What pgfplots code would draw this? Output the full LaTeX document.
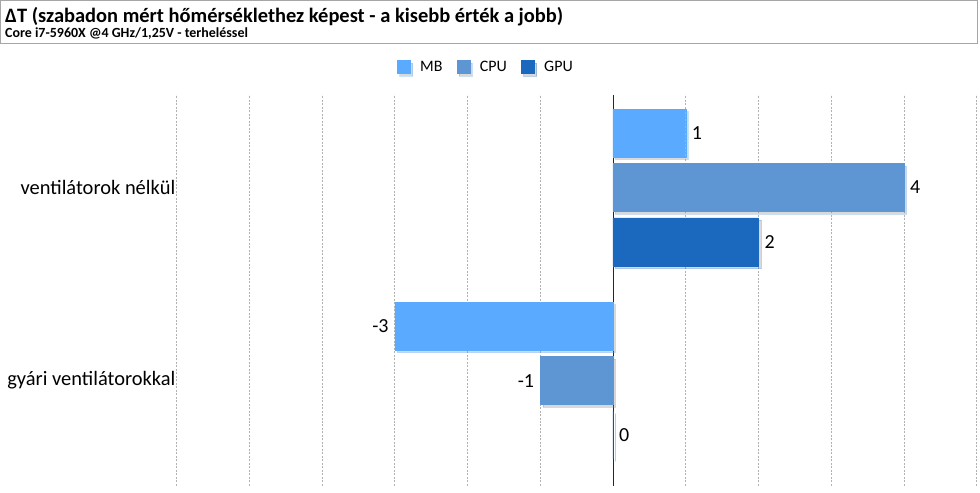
\documentclass[border=0pt]{standalone}
\usepackage{fontspec}
\setmainfont{Carlito}
\usepackage{pgfplots}
\pgfplotsset{compat=1.18}
\usetikzlibrary{shadows}
\definecolor{cMB}{RGB}{90,171,255}
\definecolor{cCPU}{RGB}{93,150,210}
\definecolor{cGPU}{RGB}{26,105,190}
\begin{document}
\begin{tikzpicture}
\path (0,0) rectangle (980pt,-490pt);
\draw[gray!70, line width=1pt] (0.5pt,-0.5pt) rectangle (979.5pt,-44pt);
\node[anchor=base west, inner sep=0pt, font=\bfseries\fontsize{20.5}{22}\selectfont] at (5pt,-23pt) {ΔT (szabadon mért hőmérséklethez képest - a kisebb érték a jobb)};
\node[anchor=base west, inner sep=0pt, font=\bfseries\fontsize{14}{16}\selectfont] at (5pt,-38pt) {Core i7-5960X @4 GHz/1,25V - terheléssel};
\begin{axis}[
  at={(177pt,-487pt)}, anchor=south west,
  scale only axis, width=802pt, height=392pt,
  xmin=-6, xmax=5, ymin=-0.545, ymax=1.48,
  xbar, bar width=0.248,
  /pgf/number format/assume math mode=true,
  xtick={-6,...,5}, xticklabels={},
  ytick={0,1}, yticklabels={gyári ventilátorokkal, ventilátorok nélkül},
  yticklabel style={font=\fontsize{20.5}{24}\selectfont, inner sep=1pt},
  major tick length=0pt,
  axis line style={draw=none},
  xmajorgrids, major grid style={gray!60, dash pattern=on 2pt off 1.5pt, line width=0.8pt},
  extra x ticks={0}, extra x tick labels={},
  extra x tick style={grid=major, major grid style={black!85, solid, line width=1pt}},
  nodes near coords,
  every node near coord/.append style={font=\fontsize{20}{24}\selectfont, black, inner sep=6pt},
  legend columns=3,
  legend style={draw=none, at={(0.3915,1.071)}, anchor=center, font=\fontsize{16}{18}\selectfont,
    nodes={inner xsep=10pt},
    /tikz/every even column/.append style={column sep=4pt}},
  legend image code/.code={\fill[#1] (0pt,-6.5pt) rectangle (13pt,6.5pt);},
]
\addplot[fill=cMB, draw=cMB, bar shift=0.282, drop shadow={shadow xshift=2.5pt, shadow yshift=-2.5pt, opacity=0.3}] coordinates {(1,1) (-3,0)};
\addplot[fill=cCPU, draw=cCPU, bar shift=0, drop shadow={shadow xshift=2.5pt, shadow yshift=-2.5pt, opacity=0.3}] coordinates {(4,1) (-1,0)};
\addplot[fill=cGPU, draw=cGPU, bar shift=-0.282, drop shadow={shadow xshift=2.5pt, shadow yshift=-2.5pt, opacity=0.3}] coordinates {(2,1) (0,0)};
\legend{MB, CPU, GPU}
\end{axis}
\end{tikzpicture}
\end{document}
